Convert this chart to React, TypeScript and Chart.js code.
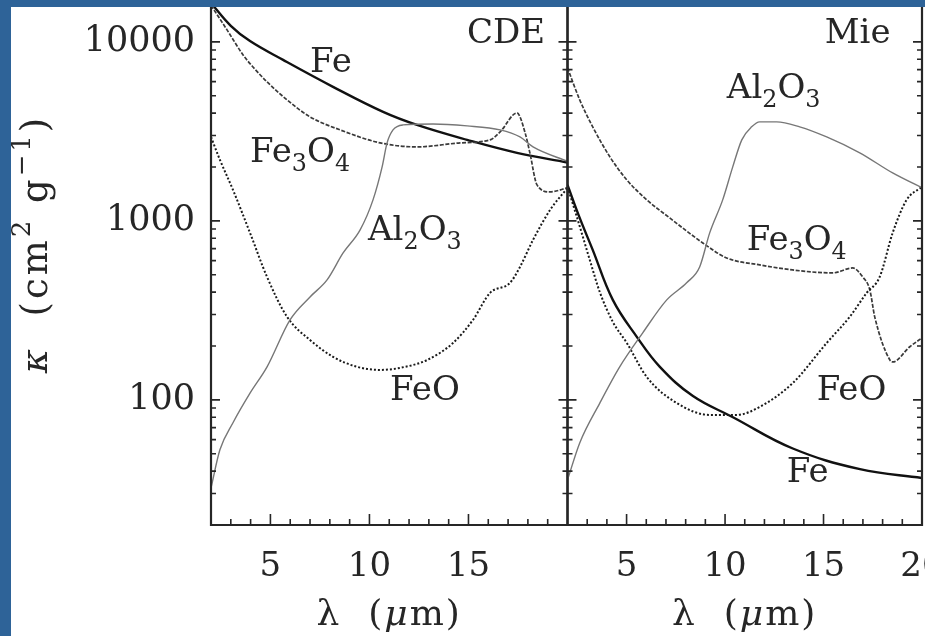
import React, { useEffect, useRef } from 'react';
import { Chart, registerables } from 'chart.js';
Chart.register(...registerables);

// ---------- axes ----------
const X_MIN = 2;
const X_MAX = 20;
const Y_MIN = 20;
const Y_MAX = 20000;
const X_TICKS_CDE = [5, 10, 15];
const X_TICKS_MIE = [5, 10, 15, 20];
const X_MINOR = [3, 4, 6, 7, 8, 9, 11, 12, 13, 14, 16, 17, 18, 19];
const Y_TICKS = [100, 1000, 10000];
const Y_MINOR = [20, 30, 40, 50, 60, 70, 80, 90, 200, 300, 400, 500, 600, 700, 800, 900, 2000, 3000, 4000, 5000, 6000, 7000, 8000, 9000];

// ---------- CDE panel ----------
const cdeFeX = [2, 3, 3.97, 5.64, 8.16, 10.69, 12.4, 14.93, 17.45, 20];
const cdeFeY = [16500, 12300, 10100, 7930, 5610, 4065, 3437, 2836, 2400, 2120];

const cdeFe3O4X = [2, 2.81, 3.62, 4.12, 4.83, 5.84, 7.0, 8.52, 10.54, 12.4, 14.58, 16.09, 16.6, 17.45, 17.86, 18.1, 18.46, 19.12, 20];
const cdeFe3O4Y = [16000, 11670, 8450, 7240, 5980, 4745, 3810, 3223, 2727, 2590, 2727, 2836, 3143, 4010, 3104, 2400, 1589, 1452, 1530];

const cdeAl2O3X = [2, 2.45, 3.11, 3.97, 4.83, 5.99, 7.0, 7.86, 8.67, 9.53, 10.18, 10.64, 10.89, 11.19, 11.7, 13.21, 14.93, 16.6, 17.6, 18.26, 20];
const cdeAl2O3Y = [32.2, 52.6, 74.5, 109, 153, 280, 376, 468, 662, 891, 1310, 2003, 2727, 3223, 3437, 3480, 3394, 3223, 2944, 2590, 2150];

const cdeFeOX = [2, 2.45, 3.11, 3.97, 4.83, 5.84, 7.0, 8.16, 9.37, 10.54, 11.55, 12.91, 14.22, 15.23, 16.09, 17.1, 17.6, 18.26, 19.12, 20];
const cdeFeOY = [2944, 2193, 1490, 857, 486, 291, 216, 174, 153, 147, 151, 167, 208, 280, 396, 451, 553, 783, 1151, 1528];

// ---------- Mie panel ----------
const mieFeX = [2, 2.62, 3.28, 4.3, 5.52, 6.69, 8.37, 10.4, 13.44, 16.85, 20];
const mieFeY = [1589, 1039, 689, 362, 225, 153, 105, 80, 53.5, 41, 36.6];

const mieFe3O4X = [2, 2.62, 3.28, 4.15, 5.01, 6.03, 7.19, 8.87, 10.08, 11.76, 13.43, 15.46, 16.48, 16.99, 17.35, 17.6, 18.37, 18.52, 19.38, 20];
const mieFe3O4Y = [7160, 4745, 3352, 2281, 1694, 1310, 1039, 753, 621, 568, 532, 512, 546, 486, 412, 291, 167, 163, 198, 222];

const mieAl2O3X = [2, 2.62, 3.64, 4.65, 5.82, 7.04, 8.05, 8.71, 9.22, 9.88, 10.39, 10.85, 11.35, 11.76, 12.62, 13.79, 15.16, 16.84, 18.51, 20];
const mieAl2O3Y = [35.7, 57.5, 96, 153, 237, 362, 451, 553, 857, 1310, 2003, 2836, 3352, 3575, 3575, 3352, 2944, 2400, 1853, 1530];

const mieFeOX = [2, 2.52, 3.13, 3.64, 4.3, 5.01, 6.03, 7.55, 9.22, 10.59, 11.76, 13.43, 15.16, 16.33, 17.19, 17.85, 18.51, 19.22, 20];
const mieFeOY = [1549, 1014, 606, 400, 273, 208, 134, 96, 82.4, 82.4, 91.4, 124, 208, 291, 396, 486, 857, 1310, 1549];

// ---------- text ----------
type Seg = { t: string; k?: 'sub' | 'sup'; it?: boolean };
const FE: Seg[] = [{ t: 'Fe' }];
const FEO: Seg[] = [{ t: 'FeO' }];
const FE3O4: Seg[] = [{ t: 'Fe' }, { t: '3', k: 'sub' }, { t: 'O' }, { t: '4', k: 'sub' }];
const AL2O3: Seg[] = [{ t: 'Al' }, { t: '2', k: 'sub' }, { t: 'O' }, { t: '3', k: 'sub' }];
const X_TITLE: Seg[] = [{ t: 'λ  (' }, { t: 'μ', it: true }, { t: 'm)' }];
const Y_TITLE: Seg[] = [{ t: 'κ', it: true }, { t: '  (cm' }, { t: '2', k: 'sup' }, { t: ' g' }, { t: '−1', k: 'sup' }, { t: ')' }];

// label anchors (data units: λ, κ) – left/baseline
const CDE_NOTES: { segs: Seg[]; x: number; y: number }[] = [
  { segs: [{ t: 'CDE' }], x: 14.92, y: 9860 },
  { segs: FE, x: 7.0, y: 6790 },
  { segs: FE3O4, x: 3.97, y: 2137 },
  { segs: AL2O3, x: 9.93, y: 783 },
  { segs: FEO, x: 11.04, y: 100 },
];
const MIE_NOTES: { segs: Seg[]; x: number; y: number }[] = [
  { segs: [{ t: 'Mie' }], x: 15.06, y: 9860 },
  { segs: AL2O3, x: 10.09, y: 4864 },
  { segs: FE3O4, x: 11.1, y: 689 },
  { segs: FEO, x: 14.65, y: 100 },
  { segs: FE, x: 13.13, y: 34.8 },
];

const FONT = '"DejaVu Serif", serif';
const INK = '#262626';
const TEXT_SIZE = 34;

function segFont(s: Seg, size: number) {
  const sz = s.k ? size * 0.7 : size;
  return `${s.it ? 'italic ' : ''}${sz}px ${FONT}`;
}
function richWidth(ctx: CanvasRenderingContext2D, segs: Seg[], size: number) {
  let w = 0;
  for (const s of segs) {
    ctx.font = segFont(s, size);
    w += ctx.measureText(s.t).width;
  }
  return w;
}
function drawRich(ctx: CanvasRenderingContext2D, segs: Seg[], x: number, y: number, size: number, center: boolean, spacing = 0) {
  (ctx as any).letterSpacing = `${spacing}px`;
  let cx = center ? x - richWidth(ctx, segs, size) / 2 : x;
  ctx.textBaseline = 'alphabetic';
  ctx.textAlign = 'left';
  for (const s of segs) {
    ctx.font = segFont(s, size);
    const dy = s.k === 'sub' ? size * 0.27 : s.k === 'sup' ? -size * 0.45 : 0;
    ctx.fillText(s.t, cx, y + dy);
    cx += ctx.measureText(s.t).width;
  }
  (ctx as any).letterSpacing = '0px';
}

type Series = { x: number[]; y: number[]; color: string; width: number; dash: number[]; smooth?: boolean };

function makePlugin(notes: { segs: Seg[]; x: number; y: number }[], xTicks: number[], yTitle: boolean) {
  return {
    id: 'frameAndText',
    afterDatasetsDraw(chart: any) {
      const { ctx, chartArea: a } = chart;
      const xs = chart.scales.x;
      const ys = chart.scales.y;
      ctx.save();
      ctx.strokeStyle = INK;
      ctx.lineCap = 'butt';
      // ticks
      ctx.lineWidth = 1.6;
      ctx.beginPath();
      for (const v of Y_TICKS) {
        const p = ys.getPixelForValue(v);
        ctx.moveTo(a.left, p); ctx.lineTo(a.left + 9, p);
        ctx.moveTo(a.right, p); ctx.lineTo(a.right - 9, p);
      }
      for (const v of Y_MINOR) {
        const p = ys.getPixelForValue(v);
        ctx.moveTo(a.left, p); ctx.lineTo(a.left + 5, p);
        ctx.moveTo(a.right, p); ctx.lineTo(a.right - 5, p);
      }
      for (const v of xTicks) {
        const p = xs.getPixelForValue(v);
        ctx.moveTo(p, a.bottom); ctx.lineTo(p, a.bottom - 11);
      }
      for (const v of X_MINOR) {
        const p = xs.getPixelForValue(v);
        ctx.moveTo(p, a.bottom); ctx.lineTo(p, a.bottom - 6);
      }
      ctx.stroke();
      // frame
      ctx.lineWidth = 2.2;
      ctx.beginPath();
      ctx.moveTo(a.left, a.top); ctx.lineTo(a.left, a.bottom); ctx.lineTo(a.right, a.bottom); ctx.lineTo(a.right, a.top);
      ctx.stroke();
      // notes
      ctx.fillStyle = INK;
      for (const n of notes) {
        drawRich(ctx, n.segs, xs.getPixelForValue(n.x), ys.getPixelForValue(n.y), TEXT_SIZE, false);
      }
      // x title
      drawRich(ctx, X_TITLE, (a.left + a.right) / 2, a.bottom + 100, 36, true, 2);
      // y title
      if (yTitle) {
        ctx.save();
        ctx.translate(a.left - 164, a.top + 256);
        ctx.rotate(-Math.PI / 2);
        drawRich(ctx, Y_TITLE, 0, 0, 37, true, 3);
        ctx.restore();
      }
      ctx.restore();
    },
  };
}

function makeConfig(series: Series[], xTicks: number[], showY: boolean, padding: any, notes: any) {
  const tickFont = { family: FONT, size: TEXT_SIZE, lineHeight: 1.2 };
  return {
    type: 'line',
    data: {
      datasets: series.map((s) => ({
        data: s.x.map((x, i) => ({ x, y: s.y[i] })),
        borderColor: s.color,
        borderWidth: s.width,
        borderDash: s.dash,
        pointRadius: 0,
        fill: false,
        tension: s.smooth ? 0.4 : 0,
        cubicInterpolationMode: s.smooth ? 'default' : 'monotone',
      })),
    },
    options: {
      animation: false,
      responsive: false,
      maintainAspectRatio: false,
      events: [],
      layout: { padding },
      plugins: { legend: { display: false }, tooltip: { enabled: false } },
      scales: {
        x: {
          type: 'linear',
          min: X_MIN,
          max: X_MAX,
          grid: { display: false, drawTicks: false },
          border: { display: false },
          afterBuildTicks: (s: any) => { s.ticks = xTicks.map((v) => ({ value: v })); },
          afterFit: (s: any) => { s.height = 60; },
          ticks: { font: tickFont, color: INK, padding: 22, maxRotation: 0, autoSkip: false, callback: (v: any) => String(v) },
        },
        y: {
          type: 'logarithmic',
          min: Y_MIN,
          max: Y_MAX,
          display: showY,
          grid: { display: false, drawTicks: false },
          border: { display: false },
          afterBuildTicks: (s: any) => { s.ticks = Y_TICKS.map((v) => ({ value: v })); },
          afterFit: (s: any) => { s.width = showY ? 200 : 0; },
          ticks: { font: { ...tickFont, size: 35 }, color: INK, padding: 16, autoSkip: false, callback: (v: any) => String(v) },
        },
      },
    },
    plugins: [makePlugin(notes, xTicks, showY)],
  };
}

const FE_STYLE = { color: '#111111', width: 2.4, dash: [] as number[], smooth: true };
const FE3O4_STYLE = { color: '#3a3a3a', width: 1.7, dash: [4, 1.6] };
const AL2O3_STYLE = { color: '#777777', width: 1.4, dash: [] as number[] };
const FEO_STYLE = { color: '#1a1a1a', width: 2, dash: [2, 2] };

export default function App() {
  const leftRef = useRef<HTMLCanvasElement>(null);
  const rightRef = useRef<HTMLCanvasElement>(null);

  useEffect(() => {
    const left = new Chart(leftRef.current as any, makeConfig(
      [
        { x: cdeAl2O3X, y: cdeAl2O3Y, ...AL2O3_STYLE },
        { x: cdeFeOX, y: cdeFeOY, ...FEO_STYLE },
        { x: cdeFe3O4X, y: cdeFe3O4Y, ...FE3O4_STYLE },
        { x: cdeFeX, y: cdeFeY, ...FE_STYLE },
      ],
      X_TICKS_CDE, true, { left: 0, top: 38, right: 32.5, bottom: 55 }, CDE_NOTES) as any);
    const right = new Chart(rightRef.current as any, makeConfig(
      [
        { x: mieAl2O3X, y: mieAl2O3Y, ...AL2O3_STYLE },
        { x: mieFeOX, y: mieFeOY, ...FEO_STYLE },
        { x: mieFe3O4X, y: mieFe3O4Y, ...FE3O4_STYLE },
        { x: mieFeX, y: mieFeY, ...FE_STYLE },
      ],
      X_TICKS_MIE, false, { left: 12.5, top: 38, right: 48, bottom: 55 }, MIE_NOTES) as any);
    return () => { left.destroy(); right.destroy(); };
  }, []);

  return (
    <div style={{ position: 'absolute', left: 0, top: 0, width: 925, height: 636, background: '#2e6398', overflow: 'hidden' }}>
      <div style={{ position: 'absolute', left: 11, top: 7, width: 914, height: 629, background: '#ffffff', overflow: 'hidden' }}>
        <canvas ref={leftRef} width={589} height={690} style={{ position: 'absolute', left: 0, top: -57, width: 589, height: 690 }} />
        <canvas ref={rightRef} width={415} height={690} style={{ position: 'absolute', left: 544, top: -57, width: 415, height: 690 }} />
      </div>
    </div>
  );
}
